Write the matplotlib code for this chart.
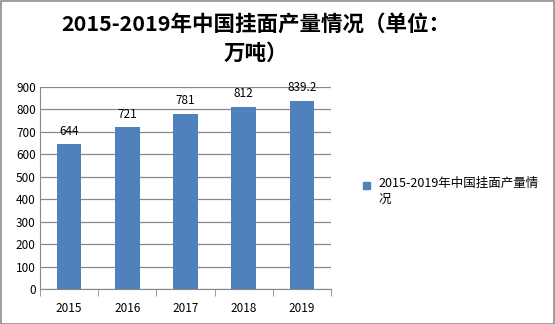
import matplotlib
matplotlib.use("Agg")
import matplotlib.pyplot as plt
from matplotlib.patches import Rectangle

plt.rcParams['font.family'] = ['Noto Sans CJK SC', 'DejaVu Sans']

years = ['2015', '2016', '2017', '2018', '2019']
output = [644, 721, 781, 812, 839.2]
value_labels = ['644', '721', '781', '812', '839.2']
title = '2015-2019年中国挂面产量情况（单位：\n万吨）'
series_name = '2015-2019年中国挂面产量情\n况'
bar_color = '#4f81bd'

W, H = 555, 324
fig = plt.figure(figsize=(W / 100, H / 100), dpi=100)

# plot area in pixel coordinates
left, right, top, bottom = 40, 331, 87, 289
ax = fig.add_axes([left / W, 1 - bottom / H, (right - left) / W, (bottom - top) / H])

x = list(range(len(years)))
ax.bar(x, output, width=0.42, color=bar_color, zorder=3)
for xi, v, s in zip(x, output, value_labels):
    ax.text(xi, v + 28, s, ha='center', va='bottom', fontsize=8.5, color='#000000')

ax.set_xlim(-0.5, len(years) - 0.5)
ax.set_ylim(0, 900)
ax.set_yticks(range(0, 901, 100))
ax.tick_params(axis='y', labelsize=8.5, length=0, pad=3)
ax.yaxis.grid(True, color='#888888', linewidth=0.9, zorder=0)
ax.set_xticks(x)
ax.set_xticklabels(years, fontsize=8.5)
ax.tick_params(axis='x', length=0, pad=9)
# tick marks between categories
ax.set_xticks([i - 0.5 for i in range(len(years) + 1)], minor=True)
ax.tick_params(axis='x', which='minor', length=5, color='#888888', direction='out')

for side in ['top', 'right']:
    ax.spines[side].set_visible(False)
ax.spines['left'].set_color('#888888')
ax.spines['bottom'].set_color('#888888')

fig.text(256 / W, 1 - 39 / H, title, ha='center', va='center', fontsize=15.5,
         fontweight='bold', linespacing=1.5, multialignment='center')

# legend
fig.patches.append(Rectangle((363 / W, 1 - 189 / H), 7 / W, 7 / H,
                             transform=fig.transFigure, color=bar_color))
fig.text(378 / W, 1 - 177 / H, series_name, ha='left', va='top', fontsize=9,
         linespacing=1.3)

# outer border
fig.patches.append(Rectangle((0.5 / W, 0.5 / H), (W - 1.5) / W, (H - 1.5) / H,
                             transform=fig.transFigure, fill=False,
                             edgecolor='#8c8c8c', linewidth=1.2))

fig.savefig('out.png', dpi=100)
